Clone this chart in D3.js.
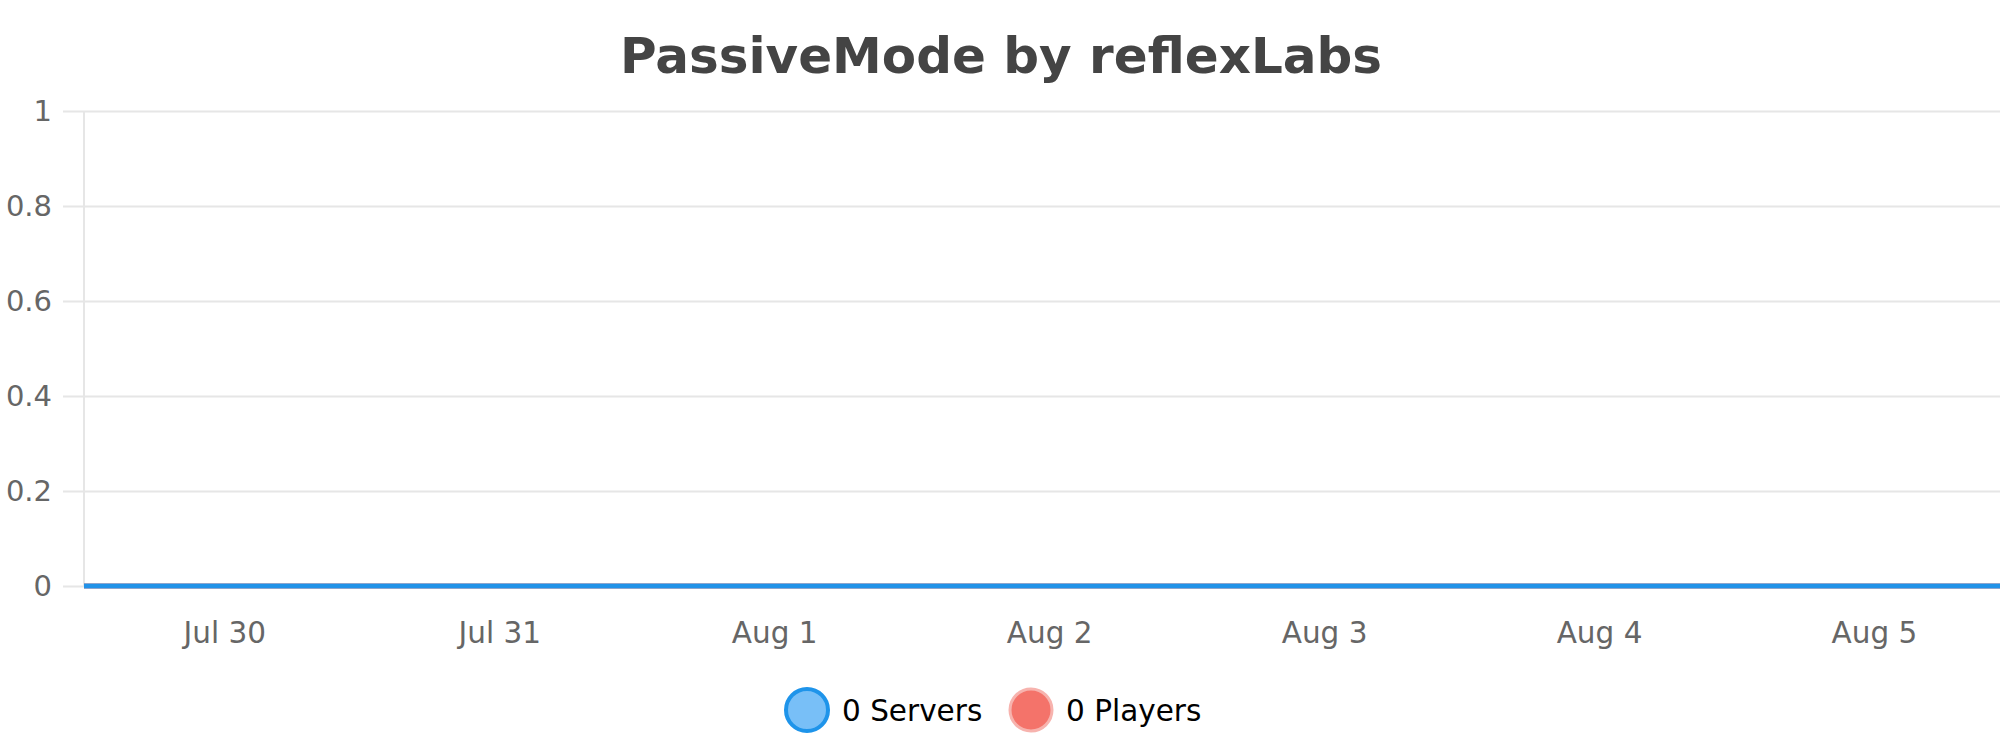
<!DOCTYPE html>
<html>
<head>
<meta charset="utf-8">
<script src="https://cdn.jsdelivr.net/npm/d3@7"></script>
<style>
  body { margin: 0; background: #fff; }
  text { font-family: "DejaVu Sans", sans-serif; }
</style>
</head>
<body>
<script>

var w = 2000;
var h = 750;

const margin = {top: 111, right: 0, bottom: 164, left: 84};
const width = w - margin.left - margin.right,
    height = h - margin.top - margin.bottom;

// data (all zero for the week)
const times = ["2023-07-29T11:45", "2023-07-30T00:00", "2023-07-31T00:00", "2023-08-01T00:00",
    "2023-08-02T00:00", "2023-08-03T00:00", "2023-08-04T00:00", "2023-08-05T00:00", "2023-08-05T11:00"];
const servers = [0, 0, 0, 0, 0, 0, 0, 0, 0];
const players = [0, 0, 0, 0, 0, 0, 0, 0, 0];
const yTicks = [0, 0.2, 0.4, 0.6, 0.8, 1];
const seriesNames = ["Servers", "Players"];
const legendValues = [0, 0];

const parse = d3.utcParse("%Y-%m-%dT%H:%M");
const dates = times.map(parse);

const svg = d3.select("body").append("svg")
    .attr("width", w)
    .attr("height", h);

const g = svg.append("g")
    .attr("transform", "translate(" + margin.left + "," + margin.top + ")");

const xScale = d3.scaleUtc()
    .domain([dates[0], dates[dates.length - 1]])
    .range([0, width]);

const yScale = d3.scaleLinear()
    .domain([0, 1])
    .range([height, 0]);

// title
svg.append("text")
    .attr("x", 1001)
    .attr("y", 73)
    .attr("text-anchor", "middle")
    .style("font-size", "50px")
    .style("font-weight", "bold")
    .attr("fill", "#444")
    .text("PassiveMode by reflexLabs");

// y grid + labels
const yAxis = d3.axisLeft(yScale)
    .tickValues(yTicks)
    .tickSize(-width - 21)
    .tickPadding(11)
    .tickFormat(d => d3.format("~g")(d));

g.append("g")
    .attr("class", "y-axis")
    .attr("transform", "translate(" + (-21) + ",0)")
    .call(yAxis)
    .call(ax => ax.select(".domain").remove())
    .call(ax => ax.selectAll("line").attr("stroke", "#e6e6e6").attr("stroke-width", 2).attr("x2", width + 21).attr("x1", 0))
    .call(ax => ax.selectAll("text")
        .attr("x", -11)
        .attr("fill", "#666")
        .style("font-size", "29px")
        .style("font-family", "DejaVu Sans, sans-serif"));

// y axis line
g.append("line")
    .attr("x1", 0).attr("x2", 0)
    .attr("y1", 0).attr("y2", height)
    .attr("stroke", "#e6e6e6")
    .attr("stroke-width", 2);

// x axis labels
const xAxis = d3.axisBottom(xScale)
    .ticks(d3.utcDay.every(1))
    .tickSize(0)
    .tickPadding(36)
    .tickFormat(d3.utcFormat("%b %-d"));

g.append("g")
    .attr("transform", "translate(0," + height + ")")
    .call(xAxis)
    .call(ax => ax.select(".domain").remove())
    .call(ax => ax.selectAll("text")
        .attr("fill", "#666")
        .style("font-size", "29.5px")
        .style("font-family", "DejaVu Sans, sans-serif"));

// lines
const line = d3.line()
    .x((d, i) => xScale(dates[i]))
    .y(d => yScale(d));

g.append("path")
    .datum(players)
    .attr("fill", "none")
    .attr("stroke", "#f4736a")
    .attr("stroke-width", 5)
    .attr("d", line);

g.append("path")
    .datum(servers)
    .attr("fill", "none")
    .attr("stroke", "#2192e8")
    .attr("stroke-width", 5)
    .attr("d", line);

// legend
const legendX = [807, 1031];
const legendFill = ["#78bff7", "#f4736a"];
const legendStroke = ["#1e94ea", "#f7b3ae"];

const legend = svg.append("g").selectAll("g")
    .data(seriesNames)
    .enter()
    .append("g")
    .attr("transform", (d, i) => "translate(" + legendX[i] + ",710)");

legend.append("circle")
    .attr("r", 21)
    .attr("fill", (d, i) => legendFill[i])
    .attr("stroke", (d, i) => legendStroke[i])
    .attr("stroke-width", (d, i) => i == 0 ? 4 : 3);

legend.append("text")
    .attr("x", 35)
    .attr("y", 11)
    .attr("fill", "#000")
    .style("font-size", "29.5px")
    .text((d, i) => legendValues[i] + " " + d);

</script>
</body>
</html>
